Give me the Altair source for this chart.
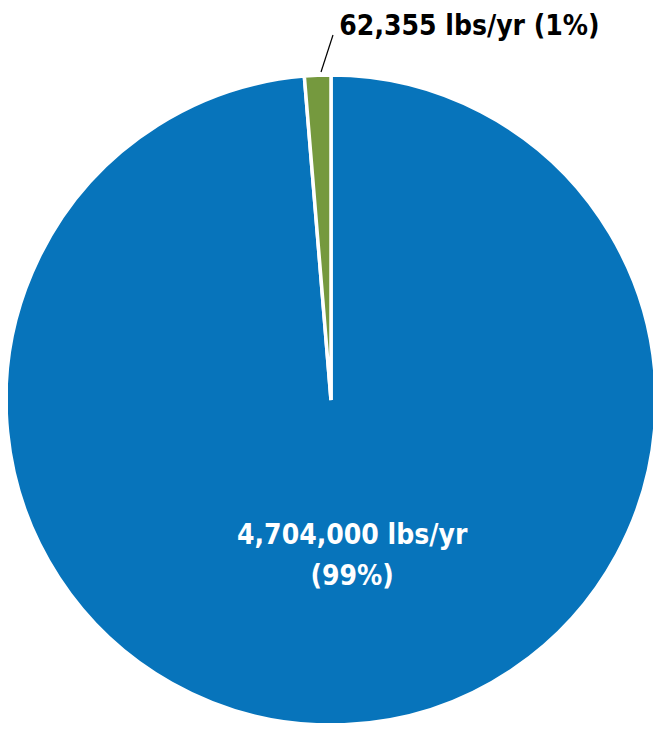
import altair as alt
import pandas as pd

categories = ["Main", "Other"]
values = [4704000, 62355]
labels = ["4,704,000 lbs/yr\n(99%)", "62,355 lbs/yr (1%)"]
colors = ["#0774BB", "#75993E"]

df = pd.DataFrame({"cat": categories, "value": values, "label": labels, "ord": [0, 1]})

CX, CY, R = 323, 392, 325

base = alt.Chart(df).encode(
    theta=alt.Theta("value:Q", stack=True),
    order=alt.Order("ord:Q"),
)

pie = base.mark_arc(radius=R, stroke="white", strokeWidth=3.5).encode(
    color=alt.Color("cat:N", scale=alt.Scale(domain=categories, range=colors), legend=None),
    x=alt.value(CX), y=alt.value(CY),
)

font = "DejaVu Sans Condensed, Liberation Sans Narrow, Arial Narrow, sans-serif"

blue_label = base.transform_filter(alt.datum.cat == "Main").mark_text(
    radius=150, dx=15, dy=-14, font=font, fontWeight="bold", fontSize=28,
    color="white", lineBreak="\n", align="center", baseline="middle", lineHeight=41,
).encode(text="label:N", x=alt.value(CX), y=alt.value(CY))

green_label = base.transform_filter(alt.datum.cat == "Other").mark_text(
    radius=373, dx=-7, font=font, fontWeight="bold", fontSize=28,
    color="black", align="left", baseline="middle",
).encode(text="label:N", x=alt.value(CX), y=alt.value(CY))

leader = alt.Chart(df).transform_filter(alt.datum.cat == "Other").mark_rule(
    color="black", strokeWidth=1.2
).encode(x=alt.value(313), y=alt.value(64), x2=alt.value(325), y2=alt.value(27))

chart = alt.layer(pie, leader, blue_label, green_label).properties(
    width=645, height=715, padding=0, autosize="none", background="white"
).configure_view(stroke=None)

chart.save("out.html", embed_options={"renderer": "svg", "actions": False})
